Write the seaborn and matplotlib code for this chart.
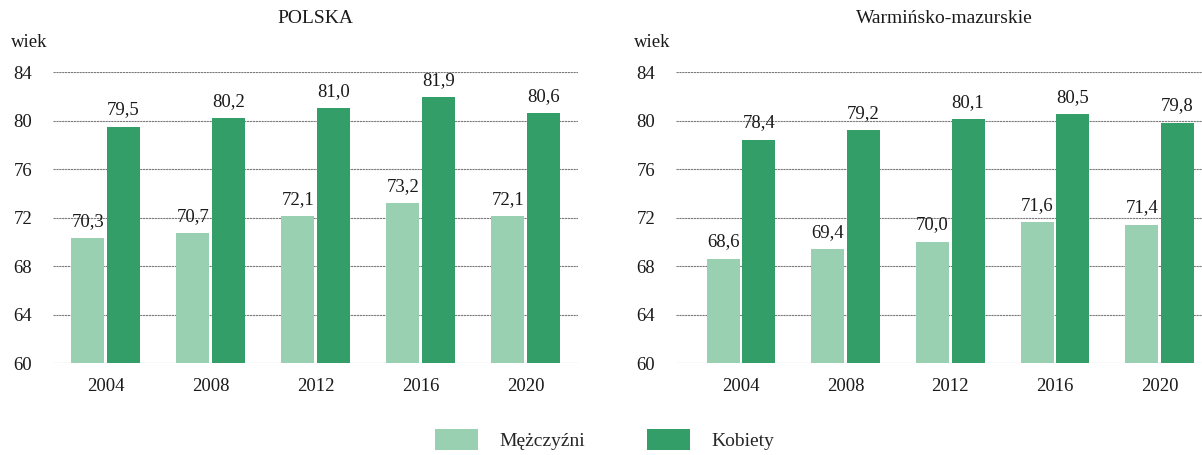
import pandas as pd
import seaborn as sns
import matplotlib.pyplot as plt
from matplotlib.patches import Patch

years = ["2004", "2008", "2012", "2016", "2020"]
sexes = ["Mężczyźni", "Kobiety"]
polska_m = [70.3, 70.7, 72.1, 73.2, 72.1]
polska_k = [79.5, 80.2, 81.0, 81.9, 80.6]
wm_m = [68.6, 69.4, 70.0, 71.6, 71.4]
wm_k = [78.4, 79.2, 80.1, 80.5, 79.8]
titles = ["POLSKA", "Warmińsko-mazurskie"]
yticks = [60, 64, 68, 72, 76, 80, 84]

colors = ["#99d0b2", "#339e68"]


def make_df(m, k):
    return pd.DataFrame({
        "rok": years * 2,
        "wiek": m + k,
        "płeć": [sexes[0]] * len(years) + [sexes[1]] * len(years),
    })


sns.set_theme(style="white")
plt.rcParams["font.family"] = ["Liberation Serif", "DejaVu Serif"]

fs = 13.5
fig = plt.figure(figsize=(12.02, 4.55), dpi=100)
W, H = 1202, 455
ax1 = fig.add_axes([53 / W, (H - 363) / H, 525 / W, 291 / H])
ax2 = fig.add_axes([676 / W, (H - 363) / H, 536 / W, 291 / H])

for ax, (m, k), title in zip([ax1, ax2], [(polska_m, polska_k), (wm_m, wm_k)], titles):
    df = make_df(m, k)
    sns.barplot(data=df, x="rok", y="wiek", hue="płeć", palette=colors, saturation=1,
                width=0.68, gap=0.07, ax=ax, legend=False, zorder=3, linewidth=0)
    ax.set_ylim(60, 84)
    ax.set_yticks(yticks)
    ax.grid(axis="y", color="#7a7a7a", linewidth=0.8, linestyle=(0, (2, 0.6)), zorder=0)
    ax.set_axisbelow(True)
    for s in ax.spines.values():
        s.set_visible(False)
    ax.tick_params(axis="both", length=0, labelsize=fs, colors="#1a1a1a")
    ax.tick_params(axis="x", pad=11)
    ax.tick_params(axis="y", pad=15)
    ax.set_xlabel("")
    ax.set_ylabel("")
    for cont in ax.containers:
        vals = [b.get_height() for b in cont]
        ax.bar_label(cont, labels=[f"{v:.1f}".replace(".", ",") for v in vals],
                     padding=6, fontsize=fs, color="#1a1a1a")
    ax.set_title(title, fontsize=14, color="#1a1a1a", pad=35)
    ax.text(-0.045, 1.085, "wiek", transform=ax.transAxes, fontsize=fs,
            color="#1a1a1a", ha="center")

ax2.set_xlim(-0.62, 4.5)
ax1.set_xlim(-0.5, 4.5)

handles = [Patch(facecolor=c, edgecolor="none") for c in colors]
fig.legend(handles, sexes, loc="lower center", bbox_to_anchor=(0.503, -0.028), ncol=2,
           frameon=False, fontsize=14, handlelength=2.2, handleheight=1.3,
           columnspacing=3.2, handletextpad=1.1)

plt.savefig("out.png", dpi=100)
